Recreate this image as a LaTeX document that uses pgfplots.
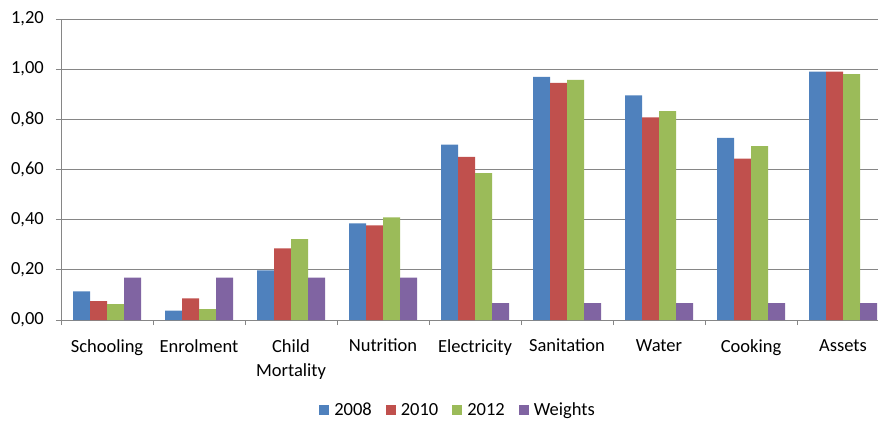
\documentclass[border=0pt]{standalone}
\usepackage{pgfplots}
\pgfplotsset{compat=1.18}
\usepackage{fontspec}
\setmainfont{Carlito}

\definecolor{xlblue}{HTML}{4F81BD}
\definecolor{xlred}{HTML}{C0504D}
\definecolor{xlgreen}{HTML}{9BBB59}
\definecolor{xlpurple}{HTML}{8064A2}
\definecolor{gridgray}{RGB}{134,134,134}

\begin{document}
\begin{tikzpicture}[font=\fontsize{18.5bp}{24bp}\selectfont]
\path[use as bounding box] (-61bp,-101bp) rectangle (817bp,320bp);
\begin{axis}[
  at={(0,0)}, anchor=south west,
  scale only axis,
  width=817bp, height=301bp,
  ybar=0pt, bar width=17bp,
  xmin=-0.5, xmax=8.38,
  ymin=0, ymax=1.2,
  enlarge x limits=false,
  axis x line*=bottom, axis y line*=left,
  axis line style={gridgray, line width=0.9bp},
  ytick={0,0.2,...,1.2},
  yticklabel style={/pgf/number format/fixed, /pgf/number format/fixed zerofill,
    /pgf/number format/precision=2, /pgf/number format/use comma,
    /pgf/number format/assume math mode=true},
  yticklabel style={inner sep=0pt, xshift=-12bp},
  ymajorgrids,
  major grid style={gridgray, line width=0.9bp},
  tick align=outside,
  major tick length=5bp,
  tick style={gridgray, line width=0.9bp},
  xtick={-0.5,0.5,...,7.5},
  xticklabels={},
  extra x ticks={0,1,2,3,4,5,6,7,8},
  extra x tick labels={Schooling,Enrolment,Child\\Mortality,Nutrition,Electricity,Sanitation,Water,Cooking,Assets},
  extra x tick style={major tick length=0pt, xticklabel style={align=center, anchor=north, inner sep=0pt, yshift=-19bp}},
  legend columns=4,
  legend style={draw=none, at={(0.486,-0.299)}, anchor=center,
    /tikz/every odd column/.append style={column sep=3bp},
    /tikz/every even column/.append style={column sep=12bp},
    nodes={inner xsep=2bp}},
  legend image code/.code={\fill[#1] (0bp,-5bp) rectangle (10bp,5bp);},
]
\addplot[fill=xlblue, draw=none] coordinates {
  (0,0.114) (1,0.037) (2,0.198) (3,0.385) (4,0.699) (5,0.969) (6,0.896) (7,0.726) (8,0.990)};
\addplot[fill=xlred, draw=none] coordinates {
  (0,0.075) (1,0.086) (2,0.286) (3,0.377) (4,0.650) (5,0.945) (6,0.808) (7,0.643) (8,0.990)};
\addplot[fill=xlgreen, draw=none] coordinates {
  (0,0.063) (1,0.043) (2,0.322) (3,0.409) (4,0.586) (5,0.957) (6,0.833) (7,0.693) (8,0.980)};
\addplot[fill=xlpurple, draw=none] coordinates {
  (0,0.169) (1,0.169) (2,0.169) (3,0.169) (4,0.067) (5,0.067) (6,0.067) (7,0.067) (8,0.067)};
\legend{2008,2010,2012,Weights}
\end{axis}
\end{tikzpicture}
\end{document}
